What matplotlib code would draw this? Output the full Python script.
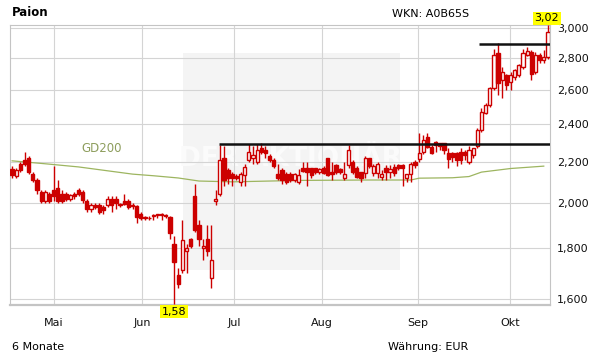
import numpy as np
import matplotlib
matplotlib.use('Agg')
import matplotlib.pyplot as plt
from matplotlib.patches import Rectangle

# daily candles, mid April .. mid October (open, high, low, close)
opens = [2.165, 2.13, 2.19, 2.21, 2.22, 2.14, 2.11, 2.05, 2.01, 2.04,
         2.06, 2.07, 2.04, 2.04, 2.02, 2.04, 2.06, 2.05, 2.01, 1.97,
         1.99, 1.99, 1.98, 1.99, 2.02, 2.02, 1.99, 2.01, 2.01, 1.99,
         1.985, 1.95, 1.935, 1.93, 1.94, 1.945, 1.95, 1.945, 1.935, 1.82,
         1.69, 1.71, 1.79, 1.84, 2.03, 1.90, 1.80, 1.84, 1.68, 2.01,
         2.04, 2.22, 2.16, 2.14, 2.13, 2.10, 2.135, 2.21, 2.22, 2.20,
         2.27, 2.26, 2.23, 2.21, 2.14, 2.16, 2.14, 2.14, 2.11, 2.10,
         2.168, 2.168, 2.168, 2.168, 2.15, 2.17, 2.217, 2.15, 2.183, 2.165,
         2.12, 2.183, 2.20, 2.17, 2.148, 2.143, 2.218, 2.143, 2.143, 2.124,
         2.168, 2.148, 2.173, 2.183, 2.183, 2.119, 2.138, 2.20, 2.213, 2.25,
         2.33, 2.276, 2.303, 2.297, 2.297, 2.245, 2.245, 2.245, 2.25, 2.25,
         2.199, 2.234, 2.28, 2.37, 2.465, 2.51, 2.61, 2.83, 2.66, 2.69,
         2.65, 2.677, 2.69, 2.74, 2.82, 2.84, 2.71, 2.818, 2.786, 2.805]
highs = [2.18, 2.17, 2.20, 2.25, 2.23, 2.15, 2.12, 2.06, 2.06, 2.05,
         2.18, 2.11, 2.06, 2.05, 2.04, 2.05, 2.07, 2.06, 2.02, 2.00,
         2.00, 2.00, 1.99, 2.03, 2.03, 2.03, 2.00, 2.04, 2.02, 2.00,
         1.99, 1.96, 1.94, 1.94, 1.95, 1.95, 1.955, 1.95, 1.94, 1.85,
         1.72, 1.92, 1.82, 1.845, 2.09, 1.92, 1.84, 1.90, 1.90, 2.06,
         2.29, 2.28, 2.17, 2.15, 2.14, 2.15, 2.19, 2.295, 2.28, 2.295,
         2.30, 2.28, 2.24, 2.22, 2.19, 2.17, 2.15, 2.15, 2.145, 2.165,
         2.20, 2.20, 2.17, 2.17, 2.17, 2.18, 2.22, 2.20, 2.19, 2.17,
         2.20, 2.29, 2.21, 2.18, 2.15, 2.23, 2.22, 2.19, 2.20, 2.158,
         2.183, 2.183, 2.19, 2.19, 2.19, 2.14, 2.20, 2.21, 2.35, 2.34,
         2.35, 2.29, 2.31, 2.30, 2.30, 2.27, 2.25, 2.25, 2.27, 2.26,
         2.28, 2.27, 2.38, 2.49, 2.52, 2.62, 2.86, 2.90, 2.74, 2.70,
         2.71, 2.73, 2.76, 2.86, 2.87, 2.85, 2.84, 2.83, 2.85, 3.02]
lows = [2.12, 2.12, 2.15, 2.18, 2.14, 2.10, 2.04, 2.00, 2.00, 2.00,
        2.01, 2.00, 2.00, 2.01, 2.01, 2.02, 2.03, 2.00, 1.96, 1.96,
        1.97, 1.95, 1.95, 1.98, 1.96, 1.97, 1.98, 1.99, 1.97, 1.97,
        1.91, 1.92, 1.92, 1.92, 1.92, 1.93, 1.92, 1.93, 1.84, 1.58,
        1.64, 1.70, 1.70, 1.80, 1.87, 1.81, 1.75, 1.77, 1.64, 1.99,
        2.03, 2.08, 2.09, 2.08, 2.11, 2.08, 2.08, 2.20, 2.19, 2.19,
        2.24, 2.22, 2.20, 2.17, 2.11, 2.09, 2.09, 2.10, 2.10, 2.09,
        2.15, 2.08, 2.12, 2.14, 2.14, 2.14, 2.13, 2.11, 2.14, 2.14,
        2.11, 2.17, 2.14, 2.12, 2.10, 2.12, 2.17, 2.13, 2.12, 2.109,
        2.109, 2.12, 2.13, 2.16, 2.08, 2.10, 2.10, 2.17, 2.20, 2.24,
        2.27, 2.24, 2.25, 2.26, 2.24, 2.17, 2.20, 2.18, 2.19, 2.21,
        2.19, 2.22, 2.27, 2.36, 2.46, 2.50, 2.60, 2.57, 2.55, 2.60,
        2.60, 2.66, 2.68, 2.73, 2.81, 2.66, 2.70, 2.77, 2.77, 2.79]
closes = [2.135, 2.16, 2.16, 2.19, 2.15, 2.11, 2.06, 2.01, 2.05, 2.01,
          2.03, 2.01, 2.01, 2.02, 2.035, 2.03, 2.04, 2.015, 1.97, 1.99,
          1.98, 1.96, 1.965, 2.02, 1.99, 2.00, 1.995, 1.995, 1.98, 1.985,
          1.935, 1.93, 1.93, 1.932, 1.945, 1.948, 1.945, 1.94, 1.865, 1.745,
          1.655, 1.835, 1.80, 1.81, 1.88, 1.84, 1.81, 1.79, 1.75, 2.02,
          2.21, 2.11, 2.12, 2.12, 2.12, 2.14, 2.175, 2.25, 2.235, 2.26,
          2.25, 2.245, 2.21, 2.18, 2.12, 2.11, 2.10, 2.11, 2.14, 2.134,
          2.155, 2.15, 2.134, 2.15, 2.165, 2.145, 2.134, 2.14, 2.15, 2.15,
          2.14, 2.26, 2.148, 2.124, 2.119, 2.222, 2.18, 2.178, 2.19, 2.138,
          2.148, 2.163, 2.143, 2.168, 2.168, 2.138, 2.188, 2.183, 2.245, 2.313,
          2.276, 2.245, 2.287, 2.282, 2.261, 2.213, 2.224, 2.208, 2.208, 2.234,
          2.261, 2.27, 2.37, 2.47, 2.51, 2.61, 2.82, 2.64, 2.71, 2.63,
          2.69, 2.722, 2.753, 2.83, 2.845, 2.70, 2.82, 2.786, 2.805, 2.97]

# 200-day average (bar index, value)
gd200_idx = [0, 9, 16, 25, 29, 34, 40, 45, 53, 69, 86, 96, 98, 106, 110, 113, 120, 128]
gd200_val = [2.205, 2.188, 2.174, 2.149, 2.138, 2.13, 2.119, 2.104, 2.10, 2.107,
             2.109, 2.109, 2.118, 2.12, 2.126, 2.148, 2.166, 2.178]

# drawn resistance lines: (start bar, end bar, level)
lines_start = [49.9, 112.5]
lines_end = [129.5, 129.5]
lines_level = [2.292, 2.89]

month_labels = ['Mai', 'Jun', 'Jul', 'Aug', 'Sep', 'Okt']
month_ticks = [10.1, 31.3, 53.4, 74.6, 97.7, 119.9]
price_ticks = [1.6, 1.8, 2.0, 2.2, 2.4, 2.6, 2.8, 3.0]
price_labels = ['1,600', '1,800', '2,000', '2,200', '2,400', '2,600', '2,800', '3,000']

RED = '#cc0000'
W, H = 611, 364

plt.rcParams['font.family'] = 'DejaVu Sans'
fig = plt.figure(figsize=(W / 100, H / 100), dpi=100)
fig.patch.set_facecolor('white')
ax = fig.add_axes([10 / W, 1 - 305 / H, 540 / W, 280 / H])

o = np.array(opens)
h = np.array(highs)
l = np.array(lows)
c = np.array(closes)
x = np.arange(len(o))
up = c >= o

ax.set_yscale('log')
ax.set_xlim(-0.5, len(o) - 0.5)
ax.set_ylim(1.578, 3.022)

# watermark box
ax.add_patch(Rectangle((0.32, 0.125), 0.402, 0.775, transform=ax.transAxes,
                       facecolor='#f4f4f4', edgecolor='none', zorder=0.2))
ax.text(0.52, 0.52, 'DER AKTIONÄR', transform=ax.transAxes, color='#fbfbfb',
        fontsize=19, fontweight='bold', ha='center', va='center', zorder=0.3)

# grid
ax.set_axisbelow(True)
ax.set_xticks(month_ticks)
ax.set_xticklabels(month_labels)
ax.set_yticks(price_ticks)
ax.set_yticklabels(price_labels)
ax.yaxis.set_minor_locator(matplotlib.ticker.NullLocator())
ax.grid(True, color='#d4d4d4', linewidth=0.8)
ax.tick_params(length=0, labelsize=8, colors='#111111')
ax.tick_params(axis='x', pad=9)
ax.yaxis.tick_right()
ax.tick_params(axis='y', pad=5)
for lab in ax.get_yticklabels():
    lab.set_horizontalalignment('left')
for s in ax.spines.values():
    s.set_color('#c4c4c4')
    s.set_linewidth(0.8)
ax.spines['bottom'].set_linewidth(1.6)

# GD200
ax.plot(gd200_idx, gd200_val, color='#9db560', linewidth=0.9, zorder=2)
ax.text(21.5, 2.27, 'GD200', color='#8d9d5c', fontsize=8.5, ha='center', va='center')

# candles
ax.vlines(x, l, h, color=RED, linewidth=1.0, zorder=3)
bottoms = np.minimum(o, c)
heights = np.maximum(np.abs(c - o), 0.003)
ax.bar(x[up], heights[up], bottom=bottoms[up], width=0.78,
       facecolor='white', edgecolor=RED, linewidth=1.0, zorder=4)
ax.bar(x[~up], heights[~up], bottom=bottoms[~up], width=0.78,
       facecolor=RED, edgecolor=RED, linewidth=1.0, zorder=4)

# resistance lines
ax.hlines(lines_level, lines_start, lines_end, color='#111111', linewidth=1.8, zorder=5)

# max / min labels
hi = int(np.argmax(h))
lo = int(np.argmin(l))
box = dict(boxstyle='square,pad=0.15', facecolor='#ffff00', edgecolor='none')
ax.annotate(f'{h[hi]:.2f}'.replace('.', ','), xy=(hi, h[hi]), xytext=(-1, 1.5),
            textcoords='offset points', ha='center', va='bottom', fontsize=8,
            bbox=box, annotation_clip=False, zorder=6)
ax.annotate(f'{l[lo]:.2f}'.replace('.', ','), xy=(lo, l[lo]), xytext=(0, -1.5),
            textcoords='offset points', ha='center', va='top', fontsize=8,
            bbox=box, annotation_clip=False, zorder=6)

# header and footer
fig.text(12 / W, 1 - 12 / H, 'Paion', fontsize=8.5, fontweight='bold', va='center', ha='left')
fig.text(469 / W, 1 - 14 / H, 'WKN: A0B65S', fontsize=8, va='center', ha='right')
fig.text(12 / W, 1 - 347 / H, '6 Monate', fontsize=8, va='center', ha='left')
fig.text(468 / W, 1 - 347 / H, 'Währung: EUR', fontsize=8, va='center', ha='right')

fig.savefig('out.png', dpi=100, facecolor='white')
